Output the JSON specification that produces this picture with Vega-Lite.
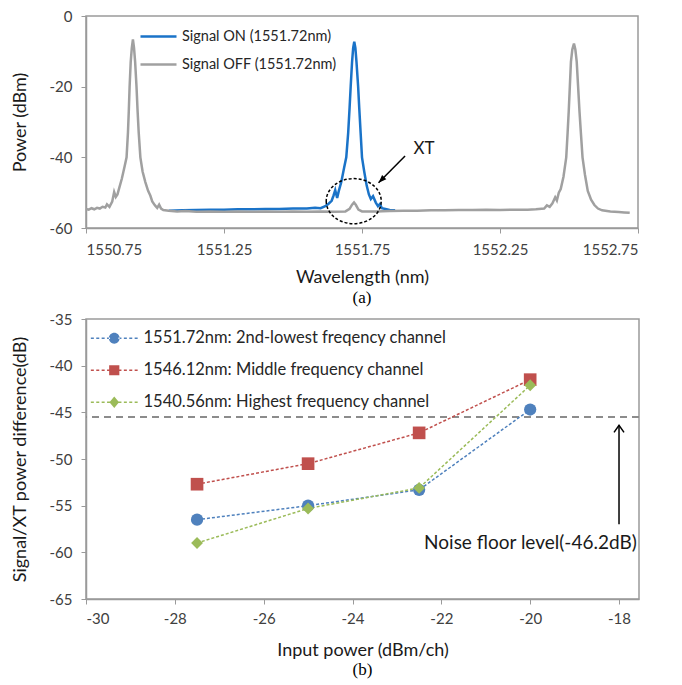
{
  "$schema": "https://vega.github.io/schema/vega-lite/v6.json",
  "background": "white",
  "padding": {"left": 10, "top": 8, "right": 5, "bottom": 0},
  "spacing": 4,
  "config": {
    "font": "Lato",
    "view": {"stroke": "#9a9a9a", "strokeWidth": 1.5},
    "axis": {"grid": false, "labelFont": "Lato", "labelFontSize": 15, "labelColor": "#404040", "labelOverlap": false, "titleFont": "Lato", "titleFontSize": 18, "titleFontWeight": "normal", "titleColor": "#1a1a1a", "domainColor": "#9a9a9a", "domainWidth": 1.5, "tickColor": "#9a9a9a", "tickSize": 5},
    "axisY": {"labelPadding": 9},
    "legend": {"labelFont": "Lato", "labelColor": "#262626", "labelLimit": 0},
    "title": {"font": "Liberation Serif", "fontSize": 17, "fontWeight": "normal", "color": "#000000", "anchor": "middle"}
  },
  "resolve": {"scale": {"color": "independent", "shape": "independent"}, "legend": {"color": "independent", "shape": "independent"}},
  "datasets": {
    "spec": [
      {"s": "Signal ON (1551.72nm)", "wl": 1551.05, "p": -55.1},
      {"s": "Signal ON (1551.72nm)", "wl": 1551.1, "p": -55.0},
      {"s": "Signal ON (1551.72nm)", "wl": 1551.15, "p": -54.9},
      {"s": "Signal ON (1551.72nm)", "wl": 1551.2, "p": -54.8},
      {"s": "Signal ON (1551.72nm)", "wl": 1551.25, "p": -54.8},
      {"s": "Signal ON (1551.72nm)", "wl": 1551.3, "p": -54.7},
      {"s": "Signal ON (1551.72nm)", "wl": 1551.35, "p": -54.7},
      {"s": "Signal ON (1551.72nm)", "wl": 1551.4, "p": -54.6},
      {"s": "Signal ON (1551.72nm)", "wl": 1551.45, "p": -54.6},
      {"s": "Signal ON (1551.72nm)", "wl": 1551.5, "p": -54.5},
      {"s": "Signal ON (1551.72nm)", "wl": 1551.55, "p": -54.5},
      {"s": "Signal ON (1551.72nm)", "wl": 1551.58, "p": -54.3},
      {"s": "Signal ON (1551.72nm)", "wl": 1551.6, "p": -54.4},
      {"s": "Signal ON (1551.72nm)", "wl": 1551.615, "p": -53.9},
      {"s": "Signal ON (1551.72nm)", "wl": 1551.628, "p": -53.2},
      {"s": "Signal ON (1551.72nm)", "wl": 1551.64, "p": -52.3},
      {"s": "Signal ON (1551.72nm)", "wl": 1551.647, "p": -50.8},
      {"s": "Signal ON (1551.72nm)", "wl": 1551.653, "p": -49.3},
      {"s": "Signal ON (1551.72nm)", "wl": 1551.66, "p": -51.5},
      {"s": "Signal ON (1551.72nm)", "wl": 1551.666, "p": -49.5},
      {"s": "Signal ON (1551.72nm)", "wl": 1551.675, "p": -47},
      {"s": "Signal ON (1551.72nm)", "wl": 1551.685, "p": -43},
      {"s": "Signal ON (1551.72nm)", "wl": 1551.693, "p": -40},
      {"s": "Signal ON (1551.72nm)", "wl": 1551.7, "p": -33},
      {"s": "Signal ON (1551.72nm)", "wl": 1551.705, "p": -26},
      {"s": "Signal ON (1551.72nm)", "wl": 1551.709, "p": -20},
      {"s": "Signal ON (1551.72nm)", "wl": 1551.714, "p": -13},
      {"s": "Signal ON (1551.72nm)", "wl": 1551.718, "p": -9},
      {"s": "Signal ON (1551.72nm)", "wl": 1551.722, "p": -7.3},
      {"s": "Signal ON (1551.72nm)", "wl": 1551.726, "p": -9},
      {"s": "Signal ON (1551.72nm)", "wl": 1551.73, "p": -13},
      {"s": "Signal ON (1551.72nm)", "wl": 1551.736, "p": -20},
      {"s": "Signal ON (1551.72nm)", "wl": 1551.74, "p": -26},
      {"s": "Signal ON (1551.72nm)", "wl": 1551.745, "p": -33},
      {"s": "Signal ON (1551.72nm)", "wl": 1551.75, "p": -40},
      {"s": "Signal ON (1551.72nm)", "wl": 1551.758, "p": -44},
      {"s": "Signal ON (1551.72nm)", "wl": 1551.767, "p": -48},
      {"s": "Signal ON (1551.72nm)", "wl": 1551.775, "p": -50.5},
      {"s": "Signal ON (1551.72nm)", "wl": 1551.782, "p": -51.8},
      {"s": "Signal ON (1551.72nm)", "wl": 1551.79, "p": -51.0},
      {"s": "Signal ON (1551.72nm)", "wl": 1551.8, "p": -52.8},
      {"s": "Signal ON (1551.72nm)", "wl": 1551.808, "p": -53.8},
      {"s": "Signal ON (1551.72nm)", "wl": 1551.815, "p": -53.2},
      {"s": "Signal ON (1551.72nm)", "wl": 1551.822, "p": -54.4},
      {"s": "Signal ON (1551.72nm)", "wl": 1551.835, "p": -54.6},
      {"s": "Signal ON (1551.72nm)", "wl": 1551.85, "p": -54.9},
      {"s": "Signal ON (1551.72nm)", "wl": 1551.87, "p": -55.0},
      {"s": "Signal OFF (1551.72nm)", "wl": 1550.75, "p": -54.6},
      {"s": "Signal OFF (1551.72nm)", "wl": 1550.76, "p": -54.8},
      {"s": "Signal OFF (1551.72nm)", "wl": 1550.77, "p": -54.4},
      {"s": "Signal OFF (1551.72nm)", "wl": 1550.78, "p": -54.7},
      {"s": "Signal OFF (1551.72nm)", "wl": 1550.79, "p": -54.3},
      {"s": "Signal OFF (1551.72nm)", "wl": 1550.8, "p": -54.5},
      {"s": "Signal OFF (1551.72nm)", "wl": 1550.81, "p": -54.0},
      {"s": "Signal OFF (1551.72nm)", "wl": 1550.82, "p": -54.2},
      {"s": "Signal OFF (1551.72nm)", "wl": 1550.826, "p": -53.3},
      {"s": "Signal OFF (1551.72nm)", "wl": 1550.835, "p": -54.0},
      {"s": "Signal OFF (1551.72nm)", "wl": 1550.845, "p": -52.5},
      {"s": "Signal OFF (1551.72nm)", "wl": 1550.852, "p": -49.8},
      {"s": "Signal OFF (1551.72nm)", "wl": 1550.858, "p": -51.2},
      {"s": "Signal OFF (1551.72nm)", "wl": 1550.864, "p": -50.5},
      {"s": "Signal OFF (1551.72nm)", "wl": 1550.87, "p": -48.8},
      {"s": "Signal OFF (1551.72nm)", "wl": 1550.88, "p": -46.0},
      {"s": "Signal OFF (1551.72nm)", "wl": 1550.89, "p": -42.5},
      {"s": "Signal OFF (1551.72nm)", "wl": 1550.897, "p": -40},
      {"s": "Signal OFF (1551.72nm)", "wl": 1550.902, "p": -33},
      {"s": "Signal OFF (1551.72nm)", "wl": 1550.905, "p": -27},
      {"s": "Signal OFF (1551.72nm)", "wl": 1550.908, "p": -20},
      {"s": "Signal OFF (1551.72nm)", "wl": 1550.912, "p": -13},
      {"s": "Signal OFF (1551.72nm)", "wl": 1550.916, "p": -9},
      {"s": "Signal OFF (1551.72nm)", "wl": 1550.92, "p": -6.6},
      {"s": "Signal OFF (1551.72nm)", "wl": 1550.924, "p": -9},
      {"s": "Signal OFF (1551.72nm)", "wl": 1550.928, "p": -13},
      {"s": "Signal OFF (1551.72nm)", "wl": 1550.933, "p": -20},
      {"s": "Signal OFF (1551.72nm)", "wl": 1550.937, "p": -27},
      {"s": "Signal OFF (1551.72nm)", "wl": 1550.941, "p": -33},
      {"s": "Signal OFF (1551.72nm)", "wl": 1550.947, "p": -40},
      {"s": "Signal OFF (1551.72nm)", "wl": 1550.955, "p": -44},
      {"s": "Signal OFF (1551.72nm)", "wl": 1550.965, "p": -47},
      {"s": "Signal OFF (1551.72nm)", "wl": 1550.975, "p": -49.5},
      {"s": "Signal OFF (1551.72nm)", "wl": 1550.983, "p": -50.8},
      {"s": "Signal OFF (1551.72nm)", "wl": 1550.99, "p": -52.5},
      {"s": "Signal OFF (1551.72nm)", "wl": 1551.0, "p": -53.6},
      {"s": "Signal OFF (1551.72nm)", "wl": 1551.008, "p": -54.3},
      {"s": "Signal OFF (1551.72nm)", "wl": 1551.015, "p": -53.4},
      {"s": "Signal OFF (1551.72nm)", "wl": 1551.022, "p": -54.5},
      {"s": "Signal OFF (1551.72nm)", "wl": 1551.03, "p": -54.9},
      {"s": "Signal OFF (1551.72nm)", "wl": 1551.05, "p": -55.1},
      {"s": "Signal OFF (1551.72nm)", "wl": 1551.08, "p": -55.3},
      {"s": "Signal OFF (1551.72nm)", "wl": 1551.11, "p": -55.2},
      {"s": "Signal OFF (1551.72nm)", "wl": 1551.15, "p": -55.4},
      {"s": "Signal OFF (1551.72nm)", "wl": 1551.2, "p": -55.3},
      {"s": "Signal OFF (1551.72nm)", "wl": 1551.25, "p": -55.4},
      {"s": "Signal OFF (1551.72nm)", "wl": 1551.3, "p": -55.3},
      {"s": "Signal OFF (1551.72nm)", "wl": 1551.35, "p": -55.4},
      {"s": "Signal OFF (1551.72nm)", "wl": 1551.4, "p": -55.3},
      {"s": "Signal OFF (1551.72nm)", "wl": 1551.45, "p": -55.4},
      {"s": "Signal OFF (1551.72nm)", "wl": 1551.5, "p": -55.3},
      {"s": "Signal OFF (1551.72nm)", "wl": 1551.55, "p": -55.4},
      {"s": "Signal OFF (1551.72nm)", "wl": 1551.6, "p": -55.3},
      {"s": "Signal OFF (1551.72nm)", "wl": 1551.65, "p": -55.4},
      {"s": "Signal OFF (1551.72nm)", "wl": 1551.69, "p": -55.3},
      {"s": "Signal OFF (1551.72nm)", "wl": 1551.705, "p": -54.6},
      {"s": "Signal OFF (1551.72nm)", "wl": 1551.714, "p": -53.4},
      {"s": "Signal OFF (1551.72nm)", "wl": 1551.721, "p": -52.8},
      {"s": "Signal OFF (1551.72nm)", "wl": 1551.728, "p": -53.5},
      {"s": "Signal OFF (1551.72nm)", "wl": 1551.737, "p": -54.8},
      {"s": "Signal OFF (1551.72nm)", "wl": 1551.75, "p": -55.3},
      {"s": "Signal OFF (1551.72nm)", "wl": 1551.8, "p": -55.3},
      {"s": "Signal OFF (1551.72nm)", "wl": 1551.85, "p": -55.2},
      {"s": "Signal OFF (1551.72nm)", "wl": 1551.9, "p": -55.1},
      {"s": "Signal OFF (1551.72nm)", "wl": 1551.95, "p": -55.1},
      {"s": "Signal OFF (1551.72nm)", "wl": 1552.0, "p": -55.0},
      {"s": "Signal OFF (1551.72nm)", "wl": 1552.05, "p": -55.0},
      {"s": "Signal OFF (1551.72nm)", "wl": 1552.1, "p": -54.9},
      {"s": "Signal OFF (1551.72nm)", "wl": 1552.15, "p": -54.9},
      {"s": "Signal OFF (1551.72nm)", "wl": 1552.2, "p": -54.8},
      {"s": "Signal OFF (1551.72nm)", "wl": 1552.25, "p": -54.9},
      {"s": "Signal OFF (1551.72nm)", "wl": 1552.3, "p": -54.8},
      {"s": "Signal OFF (1551.72nm)", "wl": 1552.35, "p": -54.8},
      {"s": "Signal OFF (1551.72nm)", "wl": 1552.38, "p": -54.7},
      {"s": "Signal OFF (1551.72nm)", "wl": 1552.41, "p": -54.5},
      {"s": "Signal OFF (1551.72nm)", "wl": 1552.42, "p": -53.6},
      {"s": "Signal OFF (1551.72nm)", "wl": 1552.43, "p": -54.0},
      {"s": "Signal OFF (1551.72nm)", "wl": 1552.44, "p": -53.0},
      {"s": "Signal OFF (1551.72nm)", "wl": 1552.45, "p": -51.3},
      {"s": "Signal OFF (1551.72nm)", "wl": 1552.456, "p": -52.2},
      {"s": "Signal OFF (1551.72nm)", "wl": 1552.463, "p": -50.0},
      {"s": "Signal OFF (1551.72nm)", "wl": 1552.47, "p": -49.0},
      {"s": "Signal OFF (1551.72nm)", "wl": 1552.48, "p": -45.5},
      {"s": "Signal OFF (1551.72nm)", "wl": 1552.49, "p": -40},
      {"s": "Signal OFF (1551.72nm)", "wl": 1552.495, "p": -33},
      {"s": "Signal OFF (1551.72nm)", "wl": 1552.499, "p": -27},
      {"s": "Signal OFF (1551.72nm)", "wl": 1552.503, "p": -20},
      {"s": "Signal OFF (1551.72nm)", "wl": 1552.507, "p": -13},
      {"s": "Signal OFF (1551.72nm)", "wl": 1552.512, "p": -9.5},
      {"s": "Signal OFF (1551.72nm)", "wl": 1552.518, "p": -7.8},
      {"s": "Signal OFF (1551.72nm)", "wl": 1552.523, "p": -9.5},
      {"s": "Signal OFF (1551.72nm)", "wl": 1552.528, "p": -13},
      {"s": "Signal OFF (1551.72nm)", "wl": 1552.533, "p": -20},
      {"s": "Signal OFF (1551.72nm)", "wl": 1552.538, "p": -27},
      {"s": "Signal OFF (1551.72nm)", "wl": 1552.543, "p": -33},
      {"s": "Signal OFF (1551.72nm)", "wl": 1552.549, "p": -40},
      {"s": "Signal OFF (1551.72nm)", "wl": 1552.558, "p": -45},
      {"s": "Signal OFF (1551.72nm)", "wl": 1552.568, "p": -49.5},
      {"s": "Signal OFF (1551.72nm)", "wl": 1552.58, "p": -52},
      {"s": "Signal OFF (1551.72nm)", "wl": 1552.592, "p": -53.5},
      {"s": "Signal OFF (1551.72nm)", "wl": 1552.605, "p": -54.5},
      {"s": "Signal OFF (1551.72nm)", "wl": 1552.62, "p": -55.0},
      {"s": "Signal OFF (1551.72nm)", "wl": 1552.65, "p": -55.3},
      {"s": "Signal OFF (1551.72nm)", "wl": 1552.68, "p": -55.5},
      {"s": "Signal OFF (1551.72nm)", "wl": 1552.7, "p": -55.6},
      {"s": "Signal OFF (1551.72nm)", "wl": 1552.72, "p": -55.7}
    ],
    "xtcircle": [{"wl": 1551.72, "p": -52.4}],
    "xtarrow": [{"wl": 1551.906, "p": -39.6, "wl2": 1551.81, "p2": -47.2}],
    "xttext": [{"wl": 1551.975, "p": -37.5, "t": "XT"}],
    "diff": [
      {"s": "1551.72nm: 2nd-lowest freqency channel", "pin": -27.5, "d": -56.5},
      {"s": "1551.72nm: 2nd-lowest freqency channel", "pin": -25, "d": -55.0},
      {"s": "1551.72nm: 2nd-lowest freqency channel", "pin": -22.5, "d": -53.3},
      {"s": "1551.72nm: 2nd-lowest freqency channel", "pin": -20, "d": -44.7},
      {"s": "1546.12nm: Middle frequency channel", "pin": -27.5, "d": -52.7},
      {"s": "1546.12nm: Middle frequency channel", "pin": -25, "d": -50.5},
      {"s": "1546.12nm: Middle frequency channel", "pin": -22.5, "d": -47.2},
      {"s": "1546.12nm: Middle frequency channel", "pin": -20, "d": -41.5},
      {"s": "1540.56nm: Highest frequency channel", "pin": -27.5, "d": -59.0},
      {"s": "1540.56nm: Highest frequency channel", "pin": -25, "d": -55.3},
      {"s": "1540.56nm: Highest frequency channel", "pin": -22.5, "d": -53.1},
      {"s": "1540.56nm: Highest frequency channel", "pin": -20, "d": -42.1}
    ],
    "noise": [{"d": -45.5}],
    "noisearrow": [{"pin": -18, "d": -57.0, "d2": -46.4}],
    "noisetext": [{"pin": -17.6, "d": -59.0, "t": "Noise floor level(-46.2dB)"}]
  },
  "vconcat": [
    {
      "width": 552,
      "height": 212,
      "title": {"text": "(a)", "orient": "bottom", "offset": 4},
      "layer": [
        {
          "data": {"name": "spec"},
          "mark": {"type": "line", "strokeWidth": 2.5},
          "encoding": {
            "x": {"field": "wl", "type": "quantitative", "scale": {"domain": [1550.75, 1552.75], "nice": false, "zero": false},
                  "axis": {"values": [1550.75, 1551.25, 1551.75, 1552.25, 1552.75], "format": ".2f", "title": "Wavelength (nm)", "labelPadding": 9, "titlePadding": 11}},
            "y": {"field": "p", "type": "quantitative", "scale": {"domain": [-60, 0], "nice": false},
                  "axis": {"values": [0, -10, -20, -30, -40, -50, -60], "labelExpr": "'' + datum.value", "title": "Power (dBm)", "titlePadding": 20}},
            "color": {"field": "s", "type": "nominal",
                      "scale": {"domain": ["Signal ON (1551.72nm)", "Signal OFF (1551.72nm)"], "range": ["#1a73c8", "#a0a0a0"]},
                      "legend": {"orient": "none", "legendX": 65, "legendY": 13, "title": null, "symbolType": "M-3,0H3", "symbolSize": 144, "symbolStrokeWidth": 2.5, "labelFontSize": 14.5, "labelOffset": 16, "rowPadding": 13}}
          }
        },
        {
          "data": {"name": "xtcircle"},
          "mark": {"type": "point", "shape": "M-1,0A1,0.82,0,1,0,1,0A1,0.82,0,1,0,-1,0Z", "filled": false, "color": "#000000", "strokeDash": [3, 2], "strokeWidth": 1.5, "size": 3025, "opacity": 1},
          "encoding": {"x": {"field": "wl", "type": "quantitative"}, "y": {"field": "p", "type": "quantitative"}}
        },
        {
          "data": {"name": "xtarrow"},
          "mark": {"type": "rule", "color": "#000000", "strokeWidth": 1.5},
          "encoding": {"x": {"field": "wl", "type": "quantitative"}, "y": {"field": "p", "type": "quantitative"}, "x2": {"field": "wl2"}, "y2": {"field": "p2"}}
        },
        {
          "data": {"name": "xtarrow"},
          "mark": {"type": "point", "shape": "M0,0L1.55,-0.71L0.71,-1.55Z", "filled": true, "color": "#000000", "size": 100, "opacity": 1},
          "encoding": {"x": {"field": "wl2", "type": "quantitative"}, "y": {"field": "p2", "type": "quantitative"}}
        },
        {
          "data": {"name": "xttext"},
          "mark": {"type": "text", "font": "Lato", "fontSize": 17, "color": "#1a1a1a"},
          "encoding": {"x": {"field": "wl", "type": "quantitative"}, "y": {"field": "p", "type": "quantitative"}, "text": {"field": "t"}}
        }
      ]
    },
    {
      "width": 553,
      "height": 280,
      "title": {"text": "(b)", "orient": "bottom", "offset": 3},
      "data": {"name": "diff"},
      "layer": [
        {
          "data": {"name": "noise"},
          "mark": {"type": "rule", "color": "#8c8c8c", "strokeWidth": 2, "strokeDash": [7, 5]},
          "encoding": {
            "y": {"field": "d", "type": "quantitative", "scale": {"domain": [-65, -35], "nice": false, "zero": false},
                  "axis": {"values": [-35, -40, -45, -50, -55, -60, -65], "labelExpr": "'' + datum.value", "title": "Signal/XT power difference(dB)", "titlePadding": 20}}
          }
        },
        {
          "transform": [{"filter": {"field": "s", "equal": "1551.72nm: 2nd-lowest freqency channel"}}],
          "mark": {"type": "line", "strokeWidth": 1.5, "strokeDash": [3, 2], "color": "#4f81bd"},
          "encoding": {
            "x": {"field": "pin", "type": "quantitative", "scale": {"domain": [-30, -17.55], "nice": false, "zero": false},
                  "axis": {"values": [-30, -28, -26, -24, -22, -20, -18], "labelExpr": "'' + datum.value", "title": "Input power (dBm/ch)", "labelPadding": 7, "titlePadding": 15}},
            "y": {"field": "d", "type": "quantitative"}
          }
        },
        {
          "transform": [{"filter": {"field": "s", "equal": "1546.12nm: Middle frequency channel"}}],
          "mark": {"type": "line", "strokeWidth": 1.5, "strokeDash": [3, 2], "color": "#c0504d"},
          "encoding": {"x": {"field": "pin", "type": "quantitative"}, "y": {"field": "d", "type": "quantitative"}}
        },
        {
          "transform": [{"filter": {"field": "s", "equal": "1540.56nm: Highest frequency channel"}}],
          "mark": {"type": "line", "strokeWidth": 1.5, "strokeDash": [3, 2], "color": "#9bbb59"},
          "encoding": {"x": {"field": "pin", "type": "quantitative"}, "y": {"field": "d", "type": "quantitative"}}
        },
        {
          "transform": [{"filter": {"field": "s", "equal": "1551.72nm: 2nd-lowest freqency channel"}}],
          "mark": {"type": "point", "shape": "circle", "filled": true, "opacity": 1, "size": 150, "color": "#4f81bd"},
          "encoding": {"x": {"field": "pin", "type": "quantitative"}, "y": {"field": "d", "type": "quantitative"}}
        },
        {
          "transform": [{"filter": {"field": "s", "equal": "1546.12nm: Middle frequency channel"}}],
          "mark": {"type": "point", "shape": "square", "filled": true, "opacity": 1, "size": 160, "color": "#c0504d"},
          "encoding": {"x": {"field": "pin", "type": "quantitative"}, "y": {"field": "d", "type": "quantitative"}}
        },
        {
          "transform": [{"filter": {"field": "s", "equal": "1540.56nm: Highest frequency channel"}}],
          "mark": {"type": "point", "shape": "diamond", "filled": true, "opacity": 1, "size": 140, "color": "#9bbb59"},
          "encoding": {"x": {"field": "pin", "type": "quantitative"}, "y": {"field": "d", "type": "quantitative"}}
        },
        {
          "mark": {"type": "point", "filled": true, "opacity": 1, "size": 0},
          "encoding": {
            "x": {"field": "pin", "type": "quantitative"},
            "y": {"field": "d", "type": "quantitative"},
            "color": {"field": "s", "type": "nominal",
                      "scale": {"domain": ["1551.72nm: 2nd-lowest freqency channel", "1546.12nm: Middle frequency channel", "1540.56nm: Highest frequency channel"], "range": ["#4f81bd", "#c0504d", "#9bbb59"]},
                      "legend": {"orient": "none", "legendX": 20, "legendY": 11, "title": null, "symbolSize": 144, "symbolOpacity": 1, "symbolStrokeWidth": 0, "labelFontSize": 16.5, "labelOffset": 21, "rowPadding": 15}},
            "shape": {"field": "s", "type": "nominal",
                      "scale": {"domain": ["1551.72nm: 2nd-lowest freqency channel", "1546.12nm: Middle frequency channel", "1540.56nm: Highest frequency channel"],
                                "range": [
                                  "M-3.9,-0.13H-3.4V0.13H-3.9ZM-3,-0.13H-2.5V0.13H-3ZM-2.1,-0.13H-1.6V0.13H-2.1ZM-1.2,-0.13H-0.7V0.13H-1.2ZM0.7,-0.13H1.2V0.13H0.7ZM1.6,-0.13H2.1V0.13H1.6ZM2.5,-0.13H3V0.13H2.5ZM3.4,-0.13H3.9V0.13H3.4ZM-0.9,0A0.9,0.9,0,1,0,0.9,0A0.9,0.9,0,1,0,-0.9,0Z",
                                  "M-3.9,-0.13H-3.4V0.13H-3.9ZM-3,-0.13H-2.5V0.13H-3ZM-2.1,-0.13H-1.6V0.13H-2.1ZM-1.2,-0.13H-0.7V0.13H-1.2ZM0.7,-0.13H1.2V0.13H0.7ZM1.6,-0.13H2.1V0.13H1.6ZM2.5,-0.13H3V0.13H2.5ZM3.4,-0.13H3.9V0.13H3.4ZM-0.85,-0.85H0.85V0.85H-0.85Z",
                                  "M-3.9,-0.13H-3.4V0.13H-3.9ZM-3,-0.13H-2.5V0.13H-3ZM-2.1,-0.13H-1.6V0.13H-2.1ZM-1.2,-0.13H-0.7V0.13H-1.2ZM0.7,-0.13H1.2V0.13H0.7ZM1.6,-0.13H2.1V0.13H1.6ZM2.5,-0.13H3V0.13H2.5ZM3.4,-0.13H3.9V0.13H3.4ZM0,-0.95L0.8,0L0,0.95L-0.8,0Z"
                                ]}}
          }
        },
        {
          "data": {"name": "noisearrow"},
          "mark": {"type": "rule", "color": "#000000", "strokeWidth": 1.5},
          "encoding": {"x": {"field": "pin", "type": "quantitative"}, "y": {"field": "d", "type": "quantitative"}, "y2": {"field": "d2"}}
        },
        {
          "data": {"name": "noisearrow"},
          "mark": {"type": "point", "shape": "M-1,1.4L0,0L1,1.4", "filled": false, "color": "#000000", "strokeWidth": 1.5, "size": 100, "opacity": 1},
          "encoding": {"x": {"field": "pin", "type": "quantitative"}, "y": {"field": "d2", "type": "quantitative"}}
        },
        {
          "data": {"name": "noisetext"},
          "mark": {"type": "text", "font": "Lato", "fontSize": 19, "align": "right", "color": "#1a1a1a"},
          "encoding": {"x": {"field": "pin", "type": "quantitative"}, "y": {"field": "d", "type": "quantitative"}, "text": {"field": "t"}}
        }
      ]
    }
  ]
}
